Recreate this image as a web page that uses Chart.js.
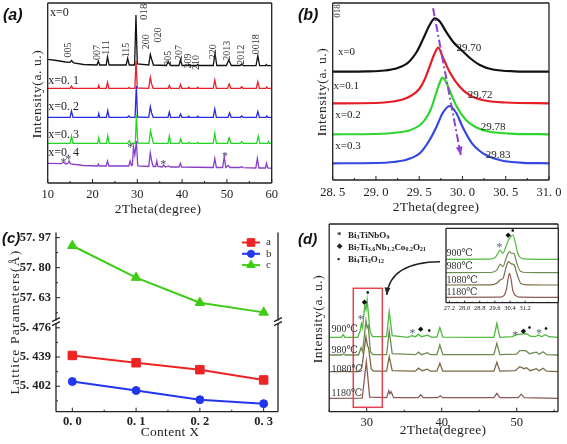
<!DOCTYPE html>
<html>
<head>
<meta charset="utf-8">
<title>XRD and lattice parameters</title>
<script src="https://cdn.jsdelivr.net/npm/chart.js@4.4.1/dist/chart.umd.min.js"></script>
<style>
  html, body { margin: 0; padding: 0; background: #fff; }
  #fig { position: relative; width: 567px; height: 444px; overflow: hidden; font-family: 'Liberation Serif', serif; color: #222; }
  #fig canvas { position: absolute; }
  .lbl { position: absolute; white-space: nowrap; line-height: 1; }
  .tag { font: italic bold 16px 'Liberation Sans', Arial, sans-serif; color: #111; }
  .xt { font-size: 13.5px; transform: translateX(-50%); letter-spacing: 0.3px; }
  .yt { font-size: 13.5px; transform: translate(-50%, -50%) rotate(-90deg); letter-spacing: 0.6px; }
  .leg { font: bold 9px 'Liberation Serif', serif; }
  .leg sub { font-size: 6px; vertical-align: -1px; }
</style>
</head>
<body>
<div id="fig">
  <canvas id="chartA" width="285" height="220" style="left:0;top:0"></canvas>
  <canvas id="chartB" width="282" height="220" style="left:285px;top:0"></canvas>
  <canvas id="chartC" width="285" height="224" style="left:0;top:220px"></canvas>
  <canvas id="chartD" width="282" height="224" style="left:285px;top:220px"></canvas>
  <canvas id="chartInset" width="126" height="90" style="left:436px;top:226px"></canvas>

  <div class="lbl tag" style="left:3px;top:6px">(a)</div>
  <div class="lbl tag" style="left:298px;top:6px">(b)</div>
  <div class="lbl tag" style="left:2px;top:229px;font-size:15px">(c)</div>
  <div class="lbl tag" style="left:298px;top:230px;font-size:15px">(d)</div>

  <div class="lbl xt" style="left:158px;top:202px">2Theta(degree)</div>
  <div class="lbl xt" style="left:436px;top:200px">2Theta(degree)</div>
  <div class="lbl xt" style="left:170px;top:425px">Content X</div>
  <div class="lbl xt" style="left:443px;top:423px">2Theta(degree)</div>

  <div class="lbl yt" style="left:37px;top:94px">Intensity(a. u.)</div>
  <div class="lbl yt" style="left:322px;top:92px">Intensity(a. u.)</div>
  <div class="lbl yt" style="left:15px;top:322px;letter-spacing:1.2px">Lattice Parameters(Å)</div>
  <div class="lbl yt" style="left:318px;top:319px">Intensity(a. u.)</div>

  <div class="lbl leg" style="left:337px;top:230px">*</div>
  <div class="lbl leg" style="left:348px;top:230px">Bi<sub>3</sub>TiNbO<sub>9</sub></div>
  <div class="lbl leg" style="left:337px;top:242px;font-size:7px">◆</div>
  <div class="lbl leg" style="left:348px;top:242px">Bi<sub>7</sub>Ti<sub>3.6</sub>Nb<sub>1.2</sub>Co<sub>0.2</sub>O<sub>21</sub></div>
  <div class="lbl leg" style="left:337px;top:254px">•</div>
  <div class="lbl leg" style="left:348px;top:254px">Bi<sub>4</sub>Ti<sub>3</sub>O<sub>12</sub></div>
</div>

<script>
// ---------- (a) XRD patterns of x = 0 ... 0.4, [2theta, stacked intensity] ----------
const sampleNamesA = ['x=0', 'x=0. 1', 'x=0. 2', 'x=0. 3', 'x=0. 4'];
const patternX00 = [[10,123.7],[12,122.5],[14,121],[15.0,120.7],[15.3,122.5],[15.8,120.2],[18,118.5],[21.0,118],[21.3,122],[21.6,118],[23.05,118],[23.35,126.3],[23.7,118],[27.5,118],[27.85,124.7],[28.2,118],[29.4,118],[29.7,168],[30.0,119],[32.55,118],[32.9,128.7],[33.25,123],[33.6,118],[36.5,117.5],[36.9,121.5],[37.4,117.5],[39.3,117.5],[39.65,123.5],[40.0,117.5],[41.3,117.5],[41.5,118.7],[41.7,117.5],[43.3,117.5],[43.5,118.5],[43.7,117.5],[46.95,117.5],[47.35,129.5],[47.75,117.5],[49.9,117.5],[50.4,123],[51.0,117.5],[53.0,117.5],[53.3,119],[53.6,117.4],[56.5,117.3],[56.9,127.3],[57.3,117.3],[58.6,117.3],[58.8,118.5],[59.0,117.3],[60,117.3]];
const patternX01 = [[10,94.7],[15.0,94.7],[15.3,97],[15.6,94.7],[21.2,94.7],[21.4,97.5],[21.6,94.7],[23.05,94.7],[23.35,100.7],[23.65,94.7],[27.9,94.7],[28.1,95.5],[28.4,94.7],[29.45,94.7],[29.72,122],[30.0,95],[32.55,94.7],[32.9,105.7],[33.2,99],[33.55,94.7],[36.9,94.7],[37.15,97.5],[37.4,94.7],[39.35,94.7],[39.65,98.5],[39.95,94.7],[41.3,94.7],[41.5,95.7],[41.7,94.7],[43.3,94.7],[43.5,95.7],[43.7,94.7],[46.95,94.7],[47.3,103],[47.65,94.7],[50.15,94.7],[50.5,99],[50.9,94.7],[53.0,94.7],[53.3,96.2],[53.6,94.7],[56.55,94.7],[56.9,101.3],[57.25,94.7],[58.7,94.7],[58.9,96],[59.1,94.7],[60,94.7]];
const patternX02 = [[10,65.7],[15.0,65.7],[15.3,72],[15.65,65.7],[21.2,65.7],[21.4,69.5],[21.6,65.7],[23.1,65.7],[23.4,72.5],[23.7,65.7],[27.8,65.7],[28.1,67],[28.4,65.7],[29.5,65.7],[29.78,97],[30.05,66],[32.55,65.7],[32.9,76.3],[33.2,70],[33.55,65.7],[36.85,65.7],[37.15,71],[37.45,65.7],[39.35,65.7],[39.65,69],[39.95,65.7],[41.3,65.7],[41.5,66.7],[41.7,65.7],[43.3,65.7],[43.5,66.7],[43.7,65.7],[46.95,65.7],[47.3,74],[47.65,65.7],[50.25,65.7],[50.6,70],[50.95,65.7],[53.0,65.7],[53.3,67],[53.6,65.7],[56.55,65.7],[56.9,71.5],[57.25,65.7],[58.7,65.7],[58.9,67],[59.1,65.7],[60,65.7]];
const patternX03 = [[10,39.7],[15.0,39.7],[15.3,47],[15.65,39.7],[21.15,39.7],[21.4,45.3],[21.65,39.7],[23.1,39.7],[23.4,47.3],[23.7,39.7],[27.8,39.7],[28.2,42.3],[28.5,39.7],[29.55,39.7],[29.8,68],[30.1,40],[32.6,39.7],[32.95,52],[33.25,46],[33.6,39.7],[36.85,39.7],[37.15,47],[37.45,39.7],[39.4,39.7],[39.7,44],[40.0,39.7],[41.3,39.7],[41.5,40.8],[41.7,39.7],[43.3,39.7],[43.5,40.8],[43.7,39.7],[46.95,39.7],[47.3,49.7],[47.65,39.7],[50.15,39.7],[50.5,45.3],[50.9,39.7],[53.0,39.7],[53.3,41.3],[53.6,39.7],[56.65,39.7],[57.0,47],[57.35,39.7],[59.1,39.7],[59.3,41.5],[59.5,39.7],[60,39.7]];
const patternX04 = [[10,19.7],[13.0,19.3],[13.6,21],[14.0,19],[14.5,19.5],[14.8,22],[15.1,19],[18,17.5],[21.1,17],[21.3,19],[21.5,17],[23.05,17],[23.35,22],[23.65,17],[28.1,17],[28.4,22],[28.7,17.5],[28.9,18],[29.15,36],[29.45,28],[29.8,42],[30.1,17],[32.55,16.5],[32.9,30.3],[33.2,22],[33.55,16.5],[34.1,16.5],[34.35,22],[34.6,16.5],[35.6,16],[35.9,18],[36.3,16],[37.0,17],[37.4,16],[39.3,16],[39.6,19.7],[39.9,16],[46.95,15.5],[47.3,24.7],[47.65,15.5],[49.05,15.5],[49.4,26.3],[49.75,15.5],[50.3,17.5],[50.7,15.5],[53.0,15.5],[53.3,16.5],[53.6,15.3],[56.45,15],[56.8,24.7],[57.15,15],[58.6,15],[58.85,19.7],[59.1,15],[60,14.7]];
const hklLabels = ['005','007','111','115','018','200','020','205','207','209','210','220','2013','2012','0018'];
const hklAngles = [14.6, 21.1, 23.2, 27.6, 31.5, 32.1, 34.7, 36.9, 39.5, 41.5, 43.1, 47.0, 50.2, 53.3, 56.6];
const impurityAnglesA = [13.5, 14.6, 28.4, 35.8, 49.6];
const ticksA = [10, 20, 30, 40, 50, 60];

// ---------- (b) (018) peak, [2theta, stacked intensity] ----------
const sampleNamesB = ['x=0', 'x=0.1', 'x=0.2', 'x=0.3'];
const peakPositionsB = ['29.70', '29.72', '29.78', '29.83'];
const peakX00 = [[28.5,108.3],[28.9,108.6],[29.1,109.5],[29.25,112],[29.38,118],[29.47,128],[29.55,142],[29.62,155],[29.68,161.7],[29.74,158.3],[29.81,148.3],[29.89,138.3],[30.0,129],[30.1,121],[30.2,115],[30.35,110.5],[30.6,108.7],[31.0,108.3]];
const peakX01 = [[28.5,76.7],[29.0,77],[29.2,78.5],[29.32,80.7],[29.42,85],[29.5,91],[29.56,100],[29.62,113.3],[29.67,125],[29.72,132.3],[29.77,123.3],[29.85,108.3],[29.96,94],[30.08,85],[30.23,80],[30.5,77.5],[31.0,76.7]];
const peakX02 = [[28.5,45.7],[29.0,46],[29.25,47.5],[29.4,50],[29.51,55],[29.58,62],[29.64,72],[29.70,88],[29.74,98],[29.77,102.3],[29.81,98],[29.85,90],[29.93,74],[30.04,60],[30.15,53],[30.3,48.5],[30.6,46.2],[31.0,45.7]];
const peakX03 = [[28.5,16.7],[29.0,17],[29.2,18],[29.36,20.5],[29.51,27],[29.62,40],[29.70,53.3],[29.77,66.7],[29.85,74],[29.93,66.7],[30.0,53.3],[30.11,36.7],[30.2,29],[30.27,25],[30.45,19.5],[30.7,17.2],[31.0,16.7]];
const shiftArrow = [[29.66, 171.7], [29.98, 25]];
const ticksB = [28.5, 29.0, 29.5, 30.0, 30.5, 31.0];

// ---------- (c) lattice parameters (Å) vs content x ----------
const contentX = [0.0, 0.1, 0.2, 0.3];
const latticeA = [5.441, 5.4317, 5.423, 5.410];
const latticeB = [5.408, 5.3966, 5.385, 5.380];
const latticeC = [57.924, 57.744, 57.602, 57.547];
const ticksCX = [0.0, 0.1, 0.2, 0.3];
const ticksCTop = [57.63, 57.80, 57.97];
const ticksCBot = [5.402, 5.439, 5.476];

// ---------- (d) XRD vs sintering temperature ----------
const tempNames = ['900℃', '980℃', '1080℃', '1180℃'];
const patternT900 = [[25,74.4],[26.6,74.4],[26.85,77],[27.1,74.4],[28.8,74.4],[29.1,80],[29.3,88],[29.45,84],[29.75,106.7],[29.9,102],[30.05,112],[30.45,80],[30.8,75],[32.65,75],[33.0,100],[33.4,76],[35.5,74.4],[36.0,76],[36.5,75],[36.9,77.5],[37.3,75],[38.1,76.5],[38.6,74.6],[39.35,74.6],[39.75,84],[40.15,74.6],[46.95,74.4],[47.35,88.4],[47.75,74.4],[49.4,75],[50.0,77],[50.6,77.5],[51.3,78],[51.8,75.5],[52.5,75],[52.9,77],[53.3,75],[53.8,77],[54.3,75],[55.5,74.4]];
const patternT980 = [[25,56.7],[26.6,56.7],[26.9,57.8],[27.2,56.7],[28.9,56.7],[29.25,64],[29.45,60],[29.9,91],[30.05,84],[30.2,86],[30.5,60],[30.8,57],[32.65,57],[33.0,80.7],[33.4,58],[36.5,57],[36.9,59.5],[37.3,57],[38.1,59],[38.5,57],[39.35,57],[39.75,66.7],[40.15,57],[46.95,57],[47.35,68.4],[47.75,57],[50.0,57.5],[50.4,61],[51.2,61],[51.7,58],[52.6,59.5],[53.0,57.5],[53.5,60],[54,57],[55.5,56.7]];
const patternT1080 = [[25,40],[26.6,40],[26.9,41],[27.2,40],[28.9,40],[29.35,44],[29.9,75],[30.1,66],[30.25,64],[30.6,43],[30.9,40.5],[32.65,40.5],[33.0,55],[33.4,41],[36.5,40.5],[36.9,43.5],[37.4,41],[38.1,42.5],[38.5,40.5],[39.35,40.5],[39.75,48.4],[40.15,40.5],[46.95,40.5],[47.35,49.4],[47.75,40.5],[49.8,41],[50.4,45],[51.0,43],[51.3,44],[51.8,41],[52.6,43],[53.0,41],[53.5,43.5],[54.0,40.5],[55.5,40]];
const patternT1180 = [[25,13.4],[29.4,13.5],[29.95,50],[30.4,14.5],[32.65,14],[32.95,21],[33.1,18],[33.25,20],[33.6,14],[36.85,14],[37.2,17],[37.55,14],[39.45,14],[39.8,16],[40.15,14],[46.95,14],[47.35,18.4],[47.75,14],[50.2,14],[50.6,17.5],[51.0,14],[55.5,13.4]];
const insetT900 = [[27.0,43.4],[29.3,43.6],[29.6,45],[29.75,49],[29.88,52.7],[30.02,49.4],[30.2,57],[30.32,62.7],[30.45,66],[30.55,67.7],[30.68,60],[30.8,50],[30.95,45],[31.3,43.6],[33,43.4]];
const insetT980 = [[27.0,30],[29.4,30.2],[29.7,32.5],[29.88,38.3],[30.03,36],[30.2,45],[30.37,51],[30.48,49.5],[30.6,49.3],[30.75,40],[30.95,31.5],[31.3,30.2],[33,30]];
const insetT1080 = [[27.0,17.7],[29.4,17.9],[29.7,19.5],[29.88,22.7],[30.05,25],[30.2,36],[30.32,41],[30.45,39],[30.62,37.7],[30.78,28],[30.98,19],[31.3,17.9],[33,17.7]];
const insetT1180 = [[27.0,5.4],[29.9,5.6],[30.1,7.5],[30.22,14],[30.3,24],[30.37,29.4],[30.45,24],[30.55,12],[30.7,7],[30.9,5.6],[33,5.4]];
const phaseMarksD = [['*',29.2,94.4],['◆',29.7,110],['•',30.13,118.4],['*',36.1,80.7],['◆',37.2,82.4],['•',38.35,80.7],['*',49.8,79],['◆',50.9,80.7],['•',51.7,83],['*',52.96,80.7],['•',53.9,82]];
const phaseMarksInset = [['*',29.85,57.7],['◆',30.3,67.7],['•',30.55,71]];
const ticksD = [30, 40, 50];
const ticksInset = [27.2, 28.0, 28.8, 29.6, 30.4, 31.2];

// ---------- annotation layout ----------
const hklHeights = [133, 130.5, 135.5, 133, 171.3, 141.3, 148, 124.7, 130.5, 122, 120.5, 131.3, 132.2, 128.3, 138.8];
const impurityHeightsA = [23, 26.3, 38, 21.3, 29];
const sampleLabelPosA = [[10.5,170.3],[10.1,102.3],[10.1,76],[10.1,48],[10.1,30.3]];
const sampleLabelPosB = [[28.56,128.3],[28.51,94],[28.53,65],[28.53,34.3]];
const peakLabelPosB = [[29.93,131.7],[30.06,85],[30.21,52.7],[30.27,25]];
const tempLabelPosD = [[25.3,82.4],[25.3,61],[25.3,42.7],[25.3,18.7]];
const tempLabelPosInset = [[27.05,49.4],[27.05,36],[27.05,22.7],[27.05,10]];
const zoomBox = [28.21, 32.08, 4.4, 123.4];
const calloutArrow = [[39.77,150],[33.11,149.7],[32.67,116.7]];

const SERIF = "'Liberation Serif', 'DejaVu Serif', serif";
Chart.defaults.font.family = SERIF;
Chart.defaults.color = '#222';

function trace(points, color, order, width, smooth) {
  return {
    data: points, borderColor: color, borderWidth: width || 1.3, pointRadius: 0,
    fill: false, order: order || 0, tension: smooth ? 0.4 : 0,
    cubicInterpolationMode: smooth ? 'monotone' : 'default'
  };
}

function xAxis(min, max, ticks, fmt, size, pad, height, bold) {
  return {
    type: 'linear', min, max,
    afterBuildTicks: s => { s.ticks = ticks.map(v => ({ value: v })); },
    afterFit: s => { s.height = height; },
    grid: { display: false, drawTicks: false },
    border: { display: false },
    ticks: { callback: fmt, padding: pad, maxRotation: 0, autoSkip: false, color: '#222',
             font: { size, family: SERIF, weight: bold ? 'bold' : 'normal' } }
  };
}

function opts(padding, scales) {
  return {
    responsive: false, devicePixelRatio: 1, animation: false, events: [],
    layout: { padding },
    scales,
    plugins: { legend: { display: false }, tooltip: { enabled: false } }
  };
}

const spaced = d => v => v.toFixed(d).replace('.', '. ');

function frame(chart, sides) {
  const { ctx, chartArea: a } = chart;
  ctx.save();
  ctx.strokeStyle = '#222';
  ctx.lineWidth = 1.3;
  ctx.beginPath();
  if (sides.includes('t')) { ctx.moveTo(a.left, a.top); ctx.lineTo(a.right, a.top); }
  if (sides.includes('r')) { ctx.moveTo(a.right, a.top); ctx.lineTo(a.right, a.bottom); }
  if (sides.includes('b')) { ctx.moveTo(a.left, a.bottom); ctx.lineTo(a.right, a.bottom); }
  if (sides.includes('l')) { ctx.moveTo(a.left, a.top); ctx.lineTo(a.left, a.bottom); }
  ctx.stroke();
  ctx.restore();
}

// inward tick marks, minors halfway between majors
function inTicks(chart, id, majors, len) {
  const s = chart.scales[id], a = chart.chartArea, ctx = chart.ctx;
  const marks = majors.map(v => [v, len]);
  const step = (majors[1] - majors[0]) / 2;
  for (let v = majors[0] - step; v <= s.max + 1e-9; v += 2 * step) {
    if (v >= s.min) marks.push([v, len / 2]);
  }
  ctx.save();
  ctx.strokeStyle = '#222';
  ctx.lineWidth = 1;
  ctx.beginPath();
  marks.forEach(([v, l]) => {
    const p = s.getPixelForValue(v);
    if (s.isHorizontal()) { ctx.moveTo(p, a.bottom); ctx.lineTo(p, a.bottom - l); }
    else { ctx.moveTo(a.left, p); ctx.lineTo(a.left + l, p); }
  });
  ctx.stroke();
  ctx.restore();
}

function put(chart, str, xv, yv, font, color, o) {
  o = o || {};
  const ctx = chart.ctx;
  const x = chart.scales.x.getPixelForValue(xv), y = chart.scales[o.y || 'y'].getPixelForValue(yv);
  ctx.save();
  ctx.translate(x, y + (o.dy || 0));
  if (o.rot) ctx.rotate(o.rot);
  ctx.font = font;
  ctx.fillStyle = color;
  ctx.textAlign = o.align || 'left';
  ctx.textBaseline = 'middle';
  ctx.fillText(str, 0, 0);
  ctx.restore();
}

function arrowHead(ctx, fx, fy, tx, ty, size) {
  const ang = Math.atan2(ty - fy, tx - fx);
  ctx.beginPath();
  ctx.moveTo(tx, ty);
  ctx.lineTo(tx - size * Math.cos(ang - 0.38), ty - size * Math.sin(ang - 0.38));
  ctx.lineTo(tx - size * Math.cos(ang + 0.38), ty - size * Math.sin(ang + 0.38));
  ctx.closePath();
  ctx.fill();
}

function phaseMark(chart, m) {
  const [sym, xv, yv] = m;
  if (sym === '*') put(chart, sym, xv, yv, '12px ' + SERIF, '#5a6478', { align: 'center', dy: 3 });
  else if (sym === '◆') put(chart, sym, xv, yv, '7px DejaVu Sans', '#111', { align: 'center' });
  else put(chart, sym, xv, yv, 'bold 10px ' + SERIF, '#111', { align: 'center' });
}

// ---------- chart (a) ----------
new Chart(document.getElementById('chartA'), {
  type: 'line',
  data: { datasets: [
    trace(patternX00, '#111111', 5),
    trace(patternX01, '#e8202a', 4),
    trace(patternX02, '#2a2ae0', 3),
    trace(patternX03, '#22d622', 2),
    trace(patternX04, '#8a3fc8', 1)
  ] },
  options: opts({ left: 47.7, right: 13.3, top: 3, bottom: 0 }, {
    x: xAxis(10, 60, ticksA, v => String(v), 12.5, 4.5, 37),
    y: { type: 'linear', display: false, min: 0, max: 180 }
  }),
  plugins: [{
    id: 'decoA',
    afterDatasetsDraw(chart) {
      frame(chart, 'trbl');
      inTicks(chart, 'x', ticksA, 4);
      sampleNamesA.forEach((s, i) => put(chart, s, sampleLabelPosA[i][0], sampleLabelPosA[i][1], '12px ' + SERIF, '#222'));
      hklLabels.forEach((s, i) => put(chart, s, hklAngles[i], hklHeights[i], (s === '018' ? '11px ' : '10px ') + SERIF, '#333', { align: 'center', rot: -Math.PI / 2 }));
      impurityAnglesA.forEach((a, i) => put(chart, '*', a, impurityHeightsA[i], '12px ' + SERIF, '#445066', { align: 'center', dy: 3 }));
    }
  }]
});

// ---------- chart (b) ----------
new Chart(document.getElementById('chartB'), {
  type: 'line',
  data: { datasets: [
    trace(peakX00, '#111111', 0, 2.2, true),
    trace(peakX01, '#e51e25', 0, 2.2, true),
    trace(peakX02, '#2fd52f', 0, 2.2, true),
    trace(peakX03, '#3348e0', 0, 2.2, true)
  ] },
  options: opts({ left: 47.7, right: 14, top: 3, bottom: 0 }, {
    x: xAxis(28.5, 31.0, ticksB, spaced(1), 12.5, 5.5, 40),
    y: { type: 'linear', display: false, min: 0, max: 177 }
  }),
  plugins: [{
    id: 'decoB',
    afterDatasetsDraw(chart) {
      const ctx = chart.ctx, X = v => chart.scales.x.getPixelForValue(v), Y = v => chart.scales.y.getPixelForValue(v);
      frame(chart, 'trbl');
      inTicks(chart, 'x', ticksB, 4);
      const [p0, p1] = shiftArrow;
      ctx.save();
      ctx.strokeStyle = '#9040d0';
      ctx.fillStyle = '#9040d0';
      ctx.lineWidth = 2;
      ctx.setLineDash([8, 3, 2, 3]);
      ctx.beginPath();
      ctx.moveTo(X(p0[0]), Y(p0[1]));
      ctx.lineTo(X(p1[0]), Y(p1[1]));
      ctx.stroke();
      ctx.setLineDash([]);
      arrowHead(ctx, X(p0[0]), Y(p0[1]), X(p1[0]), Y(p1[1]), 9);
      ctx.restore();
      sampleNamesB.forEach((s, i) => put(chart, s, sampleLabelPosB[i][0], sampleLabelPosB[i][1], '11px ' + SERIF, '#222'));
      peakPositionsB.forEach((s, i) => put(chart, s, peakLabelPosB[i][0], peakLabelPosB[i][1], '11px ' + SERIF, '#222'));
      put(chart, '018', 28.56, 169, '9px ' + SERIF, '#333', { align: 'center', rot: -Math.PI / 2 });
    }
  }]
});

// ---------- chart (c) ----------
const toXY = vals => contentX.map((x, i) => ({ x, y: vals[i] }));
function latticeSet(label, vals, color, style, r, axis) {
  return { label, data: toXY(vals), yAxisID: axis, borderColor: color, backgroundColor: color,
           borderWidth: 2, pointStyle: style, pointRadius: r, pointBorderWidth: 1, tension: 0 };
}
new Chart(document.getElementById('chartC'), {
  type: 'line',
  data: { datasets: [
    latticeSet('a', latticeA, '#ee2424', 'rect', 6, 'yBot'),
    latticeSet('b', latticeB, '#2236ee', 'circle', 4, 'yBot'),
    latticeSet('c', latticeC, '#3ccc14', 'triangle', 5.5, 'yTop')
  ] },
  options: opts({ left: 0, right: 2, top: 8, bottom: 0 }, {
    x: xAxis(-0.0256, 0.3225, ticksCX, spaced(1), 12.5, 3, 32.3, true),
    yBot: {
      type: 'linear', position: 'left', stack: 'lat', stackWeight: 1, min: 5.3698, max: 5.4832,
      afterBuildTicks: s => { s.ticks = ticksCBot.map(v => ({ value: v })); },
      afterFit: s => { s.width = 56; },
      grid: { display: false, drawTicks: false }, border: { display: false },
      ticks: { callback: spaced(3), padding: 5, color: '#222', font: { size: 12.5, weight: 'bold', family: SERIF } }
    },
    yTop: {
      type: 'linear', position: 'left', stack: 'lat', stackWeight: 1, min: 57.492, max: 57.999,
      afterBuildTicks: s => { s.ticks = ticksCTop.map(v => ({ value: v })); },
      afterFit: s => { s.width = 56; },
      grid: { display: false, drawTicks: false }, border: { display: false },
      ticks: { callback: spaced(2), padding: 5, color: '#222', font: { size: 12.5, weight: 'bold', family: SERIF } }
    }
  }),
  plugins: [{
    id: 'decoC',
    afterDatasetsDraw(chart) {
      const ctx = chart.ctx, a = chart.chartArea;
      frame(chart, 'rbl');
      inTicks(chart, 'x', ticksCX, 4);
      inTicks(chart, 'yTop', ticksCTop, 4);
      inTicks(chart, 'yBot', ticksCBot, 4);
      // axis break marks between the two stacked y ranges
      const yb = chart.scales.yTop.bottom;
      ctx.save();
      [a.left, a.right].forEach(x => {
        ctx.fillStyle = '#fff';
        ctx.fillRect(x - 3, yb - 1.5, 6, 3);
        ctx.strokeStyle = '#222';
        ctx.lineWidth = 1.2;
        ctx.beginPath();
        ctx.moveTo(x - 4, yb - 0.5); ctx.lineTo(x + 4, yb - 4.5);
        ctx.moveTo(x - 4, yb + 3.5); ctx.lineTo(x + 4, yb - 0.5);
        ctx.stroke();
      });
      // legend: line with marker
      chart.data.datasets.forEach((d, i) => {
        const y = a.top + 10 + i * 11.3;
        ctx.strokeStyle = d.borderColor;
        ctx.fillStyle = d.backgroundColor;
        ctx.lineWidth = 2;
        ctx.beginPath();
        ctx.moveTo(a.right - 36, y); ctx.lineTo(a.right - 18, y);
        ctx.stroke();
        ctx.lineWidth = 1;
        Chart.helpers.drawPoint(ctx, { pointStyle: d.pointStyle, radius: d.pointRadius * 0.9, rotation: 0, borderWidth: 1 }, a.right - 27, y);
        ctx.fillStyle = '#333';
        ctx.font = '11px ' + SERIF;
        ctx.textAlign = 'left';
        ctx.textBaseline = 'middle';
        ctx.fillText(d.label, a.right - 12, y);
      });
      ctx.restore();
    }
  }]
});

// ---------- chart (d) ----------
new Chart(document.getElementById('chartD'), {
  type: 'line',
  data: { datasets: [
    trace(patternT900, '#4fb83e', 0, 1.3),
    trace(patternT980, '#6e8b52', 0, 1.3),
    trace(patternT1080, '#7b6a47', 0, 1.3),
    trace(patternT1180, '#8c5b55', 0, 1.3)
  ] },
  options: opts({ left: 44.2, right: 9, top: 4, bottom: 0 }, {
    x: xAxis(25, 55.5, ticksD, v => String(v), 12.5, 4, 32.3),
    y: { type: 'linear', display: false, min: 0, max: 187.7 }
  }),
  plugins: [{
    id: 'decoD',
    afterDatasetsDraw(chart) {
      const ctx = chart.ctx, X = v => chart.scales.x.getPixelForValue(v), Y = v => chart.scales.y.getPixelForValue(v);
      frame(chart, 'trbl');
      inTicks(chart, 'x', ticksD, 4);
      ctx.save();
      ctx.strokeStyle = '#e8414f';
      ctx.lineWidth = 1.5;
      ctx.strokeRect(X(zoomBox[0]), Y(zoomBox[3]), X(zoomBox[1]) - X(zoomBox[0]), Y(zoomBox[2]) - Y(zoomBox[3]));
      const [c0, c1, c2] = calloutArrow.map(p => [X(p[0]), Y(p[1])]);
      ctx.strokeStyle = '#222';
      ctx.fillStyle = '#222';
      ctx.lineWidth = 1.4;
      ctx.beginPath();
      ctx.moveTo(c0[0], c0[1]);
      ctx.quadraticCurveTo(c1[0], c1[1], c2[0], c2[1]);
      ctx.stroke();
      arrowHead(ctx, c1[0], c1[1], c2[0], c2[1], 8);
      ctx.restore();
      phaseMarksD.forEach(m => phaseMark(chart, m));
      tempNames.forEach((s, i) => put(chart, s, tempLabelPosD[i][0], tempLabelPosD[i][1], '10px ' + SERIF, '#333'));
    }
  }]
});

// ---------- inset of (d) ----------
new Chart(document.getElementById('chartInset'), {
  type: 'line',
  data: { datasets: [
    trace(insetT900, '#4fb83e', 0, 1.2, true),
    trace(insetT980, '#6e8b52', 0, 1.2, true),
    trace(insetT1080, '#7b6a47', 0, 1.2, true),
    trace(insetT1180, '#8c5b55', 0, 1.2, true)
  ] },
  options: opts({ left: 10, right: 3.7, top: 2.3, bottom: 0 }, {
    x: xAxis(27.02, 32.95, ticksInset, v => v.toFixed(1), 6.5, 1.5, 13.3),
    y: { type: 'linear', display: false, min: 0, max: 74.4 }
  }),
  plugins: [{
    id: 'decoInset',
    beforeDatasetsDraw(chart) {
      const a = chart.chartArea;
      chart.ctx.save();
      chart.ctx.fillStyle = '#fff';
      chart.ctx.fillRect(a.left, a.top, a.right - a.left, a.bottom - a.top);
      chart.ctx.restore();
    },
    afterDatasetsDraw(chart) {
      frame(chart, 'trbl');
      inTicks(chart, 'x', ticksInset, 2);
      phaseMarksInset.forEach(m => phaseMark(chart, m));
      tempNames.forEach((s, i) => put(chart, s, tempLabelPosInset[i][0], tempLabelPosInset[i][1], '10px ' + SERIF, '#333'));
    }
  }]
});
</script>
</body>
</html>
